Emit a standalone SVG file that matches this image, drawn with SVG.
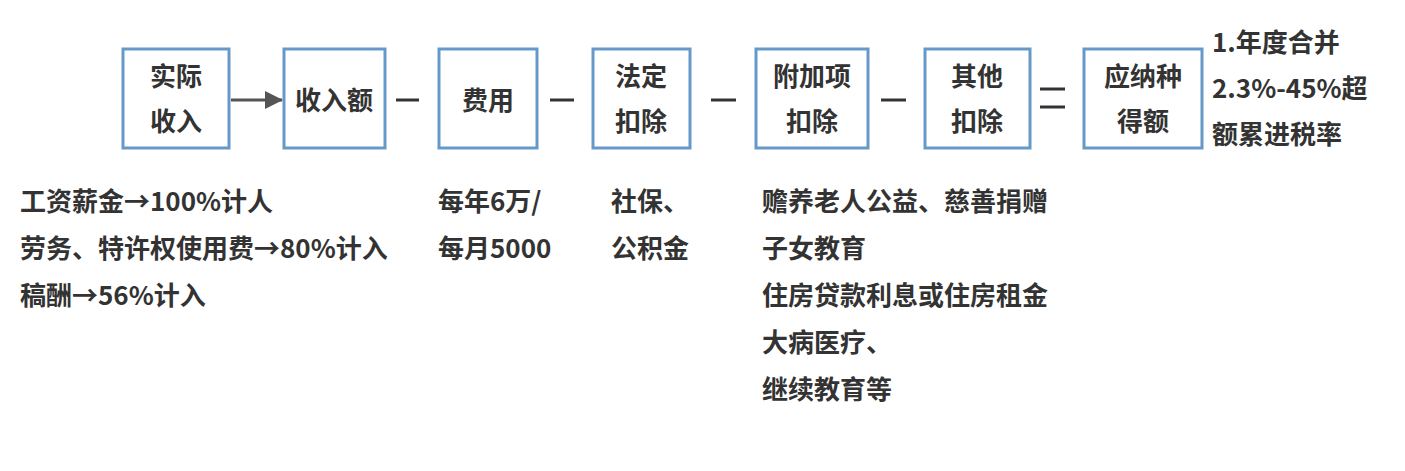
<svg xmlns="http://www.w3.org/2000/svg" width="1405" height="471" viewBox="0 0 1405 471">
<style>
.b{fill:#fff;stroke:#6699c8;stroke-width:3}
.t{font-family:"Noto Sans CJK SC","Liberation Sans",sans-serif;font-weight:bold;font-size:26px;fill:#333}
.s{font-family:"Noto Sans CJK SC","Liberation Sans",sans-serif;font-weight:bold;font-size:26px;fill:#333}
</style>
<defs><marker id="a" markerWidth="18" markerHeight="18" refX="17" refY="9" orient="auto" markerUnits="userSpaceOnUse"><path d="M0,0 L18,9 L0,18Z" fill="#555"/></marker></defs>
<rect width="1405" height="471" fill="#fff"/>
<g id="n1"><rect class="b" x="123" y="49" width="106" height="99"/><text class="t" x="176" y="86" text-anchor="middle">实际</text><text class="t" x="176" y="131" text-anchor="middle">收入</text></g>
<g id="n2"><rect class="b" x="284" y="49" width="101" height="99"/><text class="t" x="334" y="110" text-anchor="middle">收入额</text></g>
<g id="n3"><rect class="b" x="439" y="49" width="98" height="99"/><text class="t" x="488" y="110" text-anchor="middle">费用</text></g>
<g id="n4"><rect class="b" x="593" y="49" width="97" height="99"/><text class="t" x="641" y="86" text-anchor="middle">法定</text><text class="t" x="641" y="131" text-anchor="middle">扣除</text></g>
<g id="n5"><rect class="b" x="756" y="49" width="112" height="99"/><text class="t" x="812" y="86" text-anchor="middle">附加项</text><text class="t" x="812" y="131" text-anchor="middle">扣除</text></g>
<g id="n6"><rect class="b" x="925" y="49" width="105" height="99"/><text class="t" x="977" y="86" text-anchor="middle">其他</text><text class="t" x="977" y="131" text-anchor="middle">扣除</text></g>
<g id="n7"><rect class="b" x="1084" y="49" width="118" height="99"/><text class="t" x="1143" y="86" text-anchor="middle">应纳种</text><text class="t" x="1143" y="131" text-anchor="middle">得额</text></g>
<g id="connectors">
<line x1="231" y1="100" x2="282" y2="100" stroke="#555" stroke-width="3" marker-end="url(#a)"/>
<g stroke="#333" stroke-width="3">
<line x1="396" y1="100" x2="419" y2="100"/>
<line x1="550" y1="100" x2="574" y2="100"/>
<line x1="711" y1="100" x2="736" y2="100"/>
<line x1="881" y1="100" x2="906" y2="100"/>
<line x1="1040" y1="89" x2="1065" y2="89"/>
<line x1="1040" y1="107" x2="1065" y2="107"/>
</g>
</g>
<g id="labels">
<text class="s" x="1212" y="52">1.年度合并</text>
<text class="s" x="1212" y="98">2.3%-45%超</text>
<text class="s" x="1212" y="144">额累进税率</text>
<text class="s" x="20" y="211">工资薪金→100%计人</text>
<text class="s" x="20" y="258">劳务、特许权使用费→80%计入</text>
<text class="s" x="20" y="305">稿酬→56%计入</text>
<text class="s" x="438" y="211">每年6万/</text>
<text class="s" x="438" y="258">每月5000</text>
<text class="s" x="611" y="211">社保、</text>
<text class="s" x="611" y="258">公积金</text>
<text class="s" x="762" y="211">赡养老人公益、慈善捐赠</text>
<text class="s" x="762" y="258">子女教育</text>
<text class="s" x="762" y="305">住房贷款利息或住房租金</text>
<text class="s" x="762" y="352">大病医疗、</text>
<text class="s" x="762" y="399">继续教育等</text>
</g>
</svg>
